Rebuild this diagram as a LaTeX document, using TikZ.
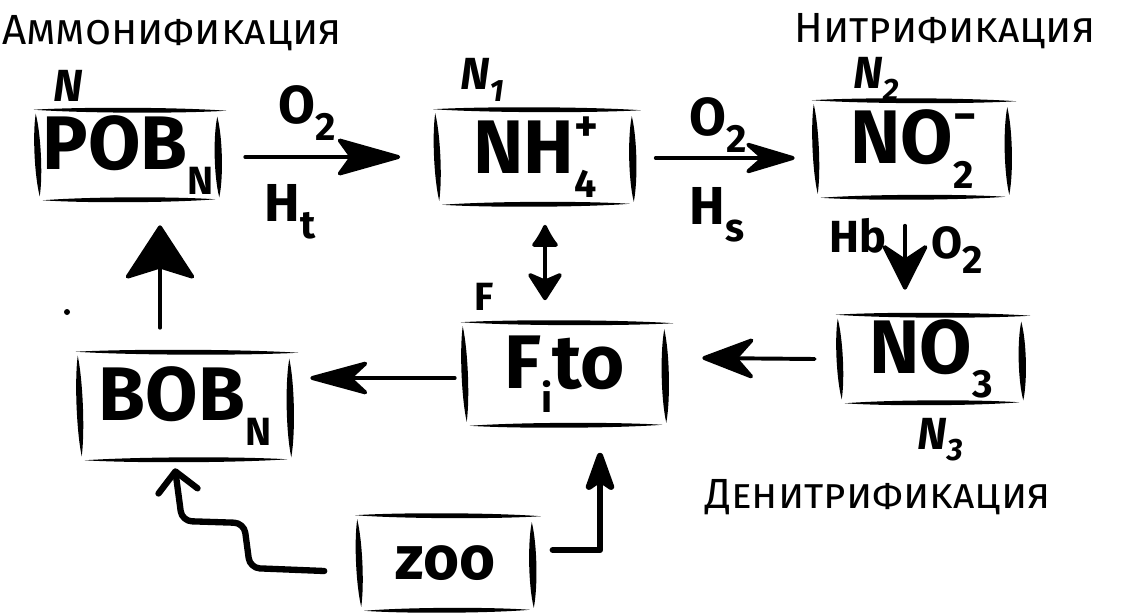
\documentclass[tikz,border=0pt]{standalone}
\usepackage{fontspec}
\setmainfont{Fira Sans}
\usetikzlibrary{arrows.meta,calc}

% lowered / raised indices for the formula labels
\newcommand\dnidx[1]{\raisebox{-0.32em}{\fontsize{28}{28}\selectfont #1}}
\newcommand\upidx[1]{\raisebox{0.42em}{\fontsize{32}{32}\selectfont #1}}
% charge over index, as in NH4+ and NO2-
\newcommand\ionidx[2]{\rlap{\upidx{#1}}\dnidx{#2}}
% small index for the pool names
\newcommand\pidx[1]{\raisebox{-0.25em}{\fontsize{22}{22}\selectfont #1}}

% a pen stroke that is thin at both ends and thick in the middle
\newcommand\tapered[3]{%
  \path #1 coordinate (ta) #2 coordinate (tb);
  \path (ta) -- (tb) coordinate[pos=0.25] (tm1) coordinate[pos=0.75] (tm2);
  \fill (ta) .. controls ($(tm1)!#3!90:(tb)$) and ($(tm2)!#3!90:(tb)$) .. (tb)
        .. controls ($(tm2)!#3!-90:(tb)$) and ($(tm1)!#3!-90:(tb)$) .. (ta) -- cycle;}

% sketched frame of four separate strokes round a node
\newcommand\sketchframe[1]{%
  \tapered{([shift={(-4,0)}]#1.north west)}{([shift={(8,1)}]#1.north east)}{2.3pt}
  \tapered{([shift={(5,0)}]#1.south west)}{([shift={(-3,-1)}]#1.south east)}{2.3pt}
  \tapered{([shift={(-2,4)}]#1.north west)}{([shift={(2,-4)}]#1.south west)}{3pt}
  \tapered{([shift={(-1,7)}]#1.north east)}{([shift={(1,-3)}]#1.south east)}{3.4pt}}

\begin{document}
\begin{tikzpicture}[x=0.025cm,y=-0.025cm,
  cell/.style 2 args={minimum width={#1*0.025cm}, minimum height={#2*0.025cm},
    inner sep=0pt, font=\fontsize{54}{54}\selectfont\bfseries},
  lbl/.style={inner sep=0pt, font=\fontsize{38}{38}\selectfont\bfseries},
  nlbl/.style={inner sep=0pt, font=\fontsize{32}{32}\selectfont\bfseries\itshape},
  title/.style={inner sep=0pt, font=\fontsize{30}{30}\selectfont\scshape},
  shaft/.style={line width=2.8pt, line cap=round},
  heavy/.style={line width=4.5pt, line cap=round, line join=round}]

\fill[white] (0,0) rectangle (1121,613);
\useasboundingbox (0,0) rectangle (1121,613);

% compartments
\node[cell={180}{90}]  (pob)  at (128,155) {POB\dnidx{N}};
\node[cell={195}{95}]  (nh4)  at (535,157) {NH\ionidx{+}{4}};
\node[cell={192}{97}]  (no2)  at (912,149) {NO\ionidx{−}{2}};
\node[cell={182}{88}]  (no3)  at (931,359) {NO\dnidx{3}};
\node[cell={200}{103}] (fito) at (565,374) {F\dnidx{i}to};
\node[cell={210}{108}] (bob)  at (185,406) {BOB\dnidx{N}};
\node[cell={173}{95}]  (zoo)  at (446,563) {\fontsize{44}{44}\selectfont zoo};

\foreach \n in {pob,nh4,no2,no3,fito,bob,zoo}{\sketchframe{\n}}

% pool names
\node[nlbl] (nA) at (68,86)  {N};
\node[nlbl] (nB) at (482,80) {N\pidx{1}};
\node[nlbl] (nC) at (876,79) {N\pidx{2}};
\node[nlbl] (nD) at (940,440) {N\pidx{3}};
\node[lbl, font=\fontsize{28}{28}\selectfont\bfseries] (nF) at (484,297) {F};

% process names
\node[title] (t1) at (172,33)  {Аммонификация};
\node[title] (t2) at (945,31)  {Нитрификация};
\node[title] (t3) at (878,497) {Денитрификация};

% rate labels
\node[lbl] (o2a) at (307,113) {O\dnidx{2}};
\node[lbl] (hta) at (290,212) {H\dnidx{t}};
\node[lbl] (o2b) at (718,125) {O\dnidx{2}};
\node[lbl] (hsb) at (717,215) {H\dnidx{s}};
\node[lbl, font=\fontsize{32}{32}\selectfont\bfseries] (hbc) at (858,236) {Hb};
\node[lbl, font=\fontsize{32}{32}\selectfont\bfseries] (o2c) at (957,250) {O\dnidx{2}};

\fill (67,312) circle (3);

% fluxes
\draw[shaft, -{Stealth[length=50pt,width=28pt,inset=10pt,round]}]
  ($(pob.east)+(27,2)$) -- ($(nh4.west)+(-37,0)$);
\draw[shaft, -{Stealth[length=42pt,width=25pt,inset=14pt,round]}]
  ($(nh4.east)+(23,1)$) -- ($(no2.west)+(-21,9)$);
\draw[shaft, -{Stealth[length=36pt,width=36pt,inset=12pt,round]}]
  ($(no2.south)+(-7,28)$) -- ($(no3.north)+(-26,-25)$);
\draw[shaft, -{Stealth[length=42pt,width=32pt,inset=14pt,round]}]
  ($(no3.west)+(-25,0)$) -- ($(fito.east)+(37,-16)$);
\draw[shaft, -{Stealth[length=48pt,width=26pt,inset=14pt,round]}]
  ($(fito.west)+(-10,4)$) -- ($(bob.east)+(20,-28)$);
\draw[shaft, -{Stealth[length=40pt,width=52pt,inset=8pt,round]}]
  ($(bob.north)+(-25,-24)$) -- ($(pob.south)+(32,25)$);
\draw[shaft, {Latex[length=18pt,width=22pt,round]}-{Stealth[length=22pt,width=28pt,inset=6pt,round]}]
  ($(nh4.south)+(10,20)$) -- ($(fito.north)+(-20,-22)$);
\draw[heavy, rounded corners=7pt, -{Straight Barb[length=14pt,width=28pt,round]}]
  ($(zoo.west)+(-35,8)$) -- (250,568) -- (244,523) -- (182,521)
  -- ($(bob.south)+(-10,8)$);
\draw[heavy, -{Stealth[length=34pt,width=24pt,inset=8pt,round]}]
  ($(zoo.east)+(20,-13)$) -| ($(fito.south)+(35,27)$);
\end{tikzpicture}
\end{document}
